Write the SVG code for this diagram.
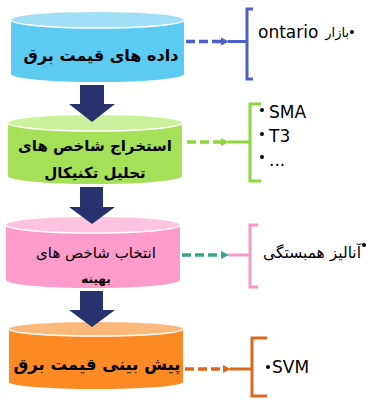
<svg xmlns="http://www.w3.org/2000/svg" width="370" height="400" viewBox="0 0 370 400">
<style>
.fa{font-family:"DejaVu Sans","Noto Sans",sans-serif;fill:#000;text-anchor:middle}
.b{font-weight:bold}
.lt{font-family:"DejaVu Sans","Liberation Sans",sans-serif;font-size:17px;fill:#000}
.arr{fill:#26336E}
.dash{fill:none;stroke-width:3.5;stroke-dasharray:9 4}
.sol{fill:none;stroke-width:3}
.hl{fill:none;stroke:#fff;stroke-width:1.5}
</style>
<rect width="370" height="400" fill="#fff"/>

<g id="node1">
<path d="M11,20 L11,74 A86.5,8 0 0 0 184,74 L184,20 Z" fill="#5CCBF1"/>
<ellipse cx="97.5" cy="20" rx="86.5" ry="8" fill="#A0DFF6"/>
<path class="hl" d="M11,20 A86.5,8 0 0 0 184,20"/>
<text class="fa b" x="101" y="61" font-size="16">داده های قیمت برق</text>
</g>

<g id="node2">
<path d="M8,123 L8,176 A87,8 0 0 0 182,176 L182,123 Z" fill="#A6E059"/>
<ellipse cx="95" cy="123" rx="87" ry="8" fill="#CBF19C"/>
<path class="hl" d="M8,123 A87,8 0 0 0 182,123"/>
<text class="fa b" x="95" y="151" font-size="15">استخراج شاخص های</text>
<text class="fa b" x="95" y="178" font-size="15">تحلیل تکنیکال</text>
</g>

<g id="node3">
<path d="M6,225 L6,280 A87,8 0 0 0 180,280 L180,225 Z" fill="#FD9BCB"/>
<ellipse cx="93" cy="225" rx="87" ry="8" fill="#FFC3DF"/>
<path class="hl" d="M6,225 A87,8 0 0 0 180,225"/>
<text class="fa" x="96" y="258" font-size="15">انتخاب شاخص های</text>
<text class="fa b" x="96" y="283" font-size="12">بهینه</text>
</g>

<g id="node4">
<path d="M9,329 L9,382 A87,7 0 0 0 183,382 L183,329 Z" fill="#FC8A24"/>
<ellipse cx="96" cy="329" rx="87" ry="7" fill="#FDB87C"/>
<path class="hl" d="M9,329 A87,7 0 0 0 183,329"/>
<text class="fa b" x="97" y="370" font-size="16.5">پیش بینی قیمت برق</text>
</g>

<g id="connectors">
<polygon class="arr" points="80,85 104,85 104,104 115,104 92,122 69,104 80,104"/>
<polygon class="arr" points="80,187 103,187 103,207 115,207 92,224 69,207 80,207"/>
<polygon class="arr" points="80,291 103,291 103,310 115,310 92,327 69,310 80,310"/>

<line class="dash" x1="186" y1="41.5" x2="222" y2="41.5" stroke="#4A62C8"/>
<polygon points="221,37.5 229,41.5 221,45.5" fill="#4A62C8"/>
<line class="sol" x1="228" y1="41.5" x2="247" y2="41.5" stroke="#4A62C8"/>
<polyline class="sol" points="253,9 247,9 247,79 253,79" stroke="#4A62C8"/>

<line class="dash" x1="187" y1="142" x2="222" y2="142" stroke="#8DD63C"/>
<polygon points="221,138 229,142 221,146" fill="#8DD63C"/>
<line class="sol" x1="228" y1="142" x2="250" y2="142" stroke="#8DD63C"/>
<polyline class="sol" points="261,104 250,104 250,181 261,181" stroke="#8DD63C"/>

<line class="dash" x1="182" y1="255" x2="222" y2="255" stroke="#33A888"/>
<polygon points="221,251 229,255 221,259" fill="#33A888"/>
<line class="sol" x1="228" y1="255" x2="250" y2="255" stroke="#F59AC8"/>
<polyline class="sol" points="258,225 250,225 250,287 258,287" stroke="#F59AC8"/>

<line class="dash" x1="185" y1="369" x2="224" y2="369" stroke="#D9691C"/>
<polygon points="223,365 231,369 223,373" fill="#D9691C"/>
<line class="sol" x1="230" y1="369" x2="252" y2="369" stroke="#D9691C"/>
<polyline class="sol" points="267,338 252,338 252,396 267,396" stroke="#D9691C"/>
</g>

<g id="labels">
<text class="lt" x="258" y="38">ontario</text>
<text class="fa" x="349" y="37" font-size="13" style="text-anchor:end">بازار</text>
<circle cx="352" cy="32" r="2" fill="#000"/>

<circle cx="262" cy="110" r="2" fill="#000"/>
<text class="lt" x="269" y="118">SMA</text>
<circle cx="262" cy="134" r="2" fill="#000"/>
<text class="lt" x="269" y="142">T3</text>
<circle cx="262" cy="157" r="2" fill="#000"/>
<text class="lt" x="269" y="166">...</text>

<text class="fa" x="361" y="258" font-size="15.5" style="text-anchor:end">آنالیز همبستگی</text>
<circle cx="364" cy="245" r="2" fill="#000"/>

<circle cx="268" cy="367" r="2" fill="#000"/>
<text class="lt" x="272" y="373">SVM</text>
</g>
</svg>
